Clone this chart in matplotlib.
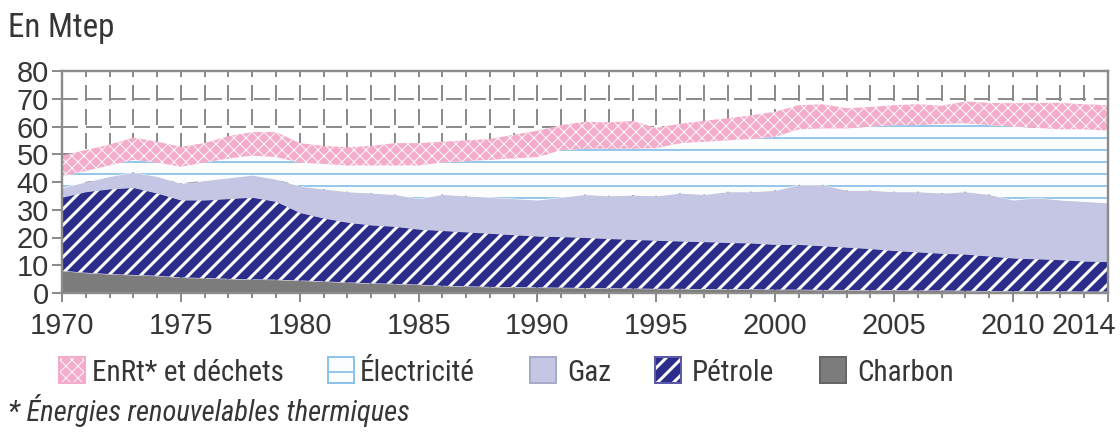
import matplotlib
matplotlib.use("Agg")
import matplotlib.pyplot as plt
from matplotlib.patches import Rectangle
from matplotlib.transforms import ScaledTranslation
from matplotlib import font_manager as fm
from matplotlib.font_manager import FontProperties
from matplotlib.textpath import TextPath

# ---------------- data (Mtep) ----------------
years = list(range(1970, 2015))
charbon = [8.0, 7.3, 6.8, 6.5, 6.2, 5.6, 5.4, 5.1, 4.9, 4.8,
           4.5, 4.2, 3.8, 3.5, 3.3, 3.0, 2.6, 2.4, 2.2, 2.1,
           2.0, 1.9, 1.8, 1.7, 1.6, 1.5, 1.5, 1.4, 1.4, 1.3,
           1.2, 1.2, 1.1, 1.1, 1.0, 1.0, 0.9, 0.9, 0.8, 0.7,
           0.7, 0.6, 0.6, 0.5, 0.5]
petrole = [26.5, 29.2, 30.7, 31.5, 29.8, 27.9, 28.1, 28.9, 29.6, 28.2,
           24.5, 22.8, 21.7, 21.0, 20.7, 20.0, 19.9, 19.6, 19.3, 18.9,
           18.5, 18.4, 18.2, 17.9, 17.7, 17.5, 17.2, 17.1, 16.8, 16.7,
           16.3, 16.3, 15.9, 15.4, 15.0, 14.3, 13.9, 13.4, 13.2, 12.6,
           11.9, 11.7, 11.4, 11.0, 10.8]
gaz = [3.5, 3.5, 4.5, 5.5, 6.0, 6.0, 7.0, 7.5, 8.0, 8.0,
       9.5, 10.5, 11.0, 11.5, 11.5, 11.0, 13.0, 13.0, 13.0, 13.0,
       13.0, 14.2, 15.5, 15.4, 16.0, 16.0, 17.3, 17.0, 18.3, 18.5,
       19.5, 21.5, 22.0, 20.5, 21.0, 21.2, 21.7, 21.7, 22.5, 22.2,
       20.9, 22.0, 21.5, 21.5, 21.2]
electricite = [4.0, 4.0, 4.0, 4.5, 5.0, 6.0, 6.5, 7.0, 7.0, 8.0,
               8.5, 9.0, 9.5, 10.0, 10.5, 12.0, 11.5, 12.5, 13.5, 14.5,
               15.5, 17.0, 16.5, 17.0, 16.7, 17.2, 18.0, 19.0, 18.5, 19.0,
               19.3, 20.0, 20.3, 22.3, 23.0, 24.0, 24.0, 25.0, 24.7, 25.0,
               26.5, 25.2, 25.5, 26.0, 26.0]
enrt = [7.5, 7.5, 7.5, 8.0, 7.5, 7.2, 7.0, 8.0, 8.5, 9.0,
        7.0, 6.5, 6.5, 7.0, 8.0, 8.0, 7.5, 7.5, 7.5, 8.5,
        9.5, 9.0, 9.7, 9.5, 10.0, 7.3, 7.0, 7.5, 8.0, 8.5,
        9.0, 8.7, 8.7, 7.3, 7.0, 7.2, 7.5, 6.5, 7.8, 8.0,
        8.4, 9.0, 9.5, 9.0, 9.2]

series_labels = ["EnRt* et déchets", "Électricité", "Gaz", "Pétrole", "Charbon"]
yticks = [0, 10, 20, 30, 40, 50, 60, 70, 80]
xticks = [1970, 1975, 1980, 1985, 1990, 1995, 2000, 2005, 2010, 2014]
xticklabels = [str(v) for v in xticks]
title_text = "En Mtep"
footnote_text = "* Énergies renouvelables thermiques"

# ---------------- fonts ----------------
DPI = 144
W, H = 1120, 436
available = {f.name for f in fm.fontManager.ttflist}
family = "Liberation Sans"
for cand in ["Liberation Sans Narrow", "Roboto Condensed", "Open Sans Condensed",
             "Liberation Sans"]:
    if cand in available:
        family = cand
        break
tick_family = ["Liberation Sans", "DejaVu Sans"]
plt.rcParams["font.family"] = [family, "DejaVu Sans"]


def fit_size(text, width_px, max_pt, italic=False, fam=None):
    """font size (pt) so that text ink width ~ width_px, capped at max_pt"""
    fp = FontProperties(family=fam or [family, "DejaVu Sans"],
                        style="italic" if italic else "normal")
    w = TextPath((0, 0), text, prop=fp, size=10).get_extents().width * DPI / 72.0
    return min(max_pt, 10 * width_px / w)


TXT = "#363636"
GRID = "#8c8c8c"

styles = {  # face, hatch, hatch colour, hatch linewidth
    "Charbon": ("#7c7c7c", None, None, None),
    "Pétrole": ("#2c2d8a", "///", "white", 1.5),
    "Gaz": ("#c5c6e3", None, None, None),
    "Électricité": ("#fbfdff", "--", "#8cc3ea", 0.9),
    "EnRt* et déchets": ("#f3acc9", "xxxx", "white", 0.45),
}


def style_artist(art, name, hatch_override=None):
    face, hatch, hcol, hlw = styles[name]
    if hatch_override:
        hatch = hatch_override
    art.set_facecolor(face)
    art.set_linewidth(0)
    if hatch:
        art.set_hatch(hatch)
        art.set_edgecolor(hcol)
        if hasattr(art, "set_hatch_linewidth"):
            art.set_hatch_linewidth(hlw)
    else:
        art.set_edgecolor(face)


fig = plt.figure(figsize=(W / DPI, H / DPI), dpi=DPI)
ax = fig.add_axes([62 / W, (H - 293) / H, (1108 - 62) / W, (293 - 71) / H])

layers = [charbon, petrole, gaz, electricite, enrt]
names = ["Charbon", "Pétrole", "Gaz", "Électricité", "EnRt* et déchets"]
polys = ax.stackplot(years, *layers)
for p, n in zip(polys, names):
    style_artist(p, n)

ax.set_xlim(1970, 2014)
ax.set_ylim(0, 80)
ax.set_axisbelow(True)

ax.set_yticks(yticks)
ax.set_yticklabels([str(v) for v in yticks])
ax.set_xticks(xticks)
ax.set_xticklabels(xticklabels)
ax.set_xticks(years, minor=True)

dash = (0, (8, 4))
ax.grid(axis="y", which="major", color=GRID, lw=1.0, ls=dash)
ax.grid(axis="x", which="both", color=GRID, lw=1.0, ls=dash)

for s in ax.spines.values():
    s.set_color(GRID)
    s.set_linewidth(1.2)

tick_pt = fit_size("1970", 63, 14.5, fam=tick_family)
ax.tick_params(axis="x", which="major", length=4.5, width=1.0, color=GRID,
               labelsize=tick_pt, labelcolor=TXT, pad=5)
ax.tick_params(axis="x", which="minor", length=2.5, width=1.0, color=GRID)
ax.tick_params(axis="y", which="major", length=5, width=1.0, color=GRID,
               labelsize=tick_pt, labelcolor=TXT, pad=1.5)
for lab in ax.get_xticklabels() + ax.get_yticklabels():
    lab.set_family(tick_family)

last = ax.xaxis.get_major_ticks()[-1].label1
last.set_horizontalalignment("right")
last.set_transform(last.get_transform() + ScaledTranslation(8 / DPI, 0, fig.dpi_scale_trans))

# ---------------- title / footnote ----------------
fig.text(8 / W, 1 - 37 / H, title_text, fontsize=fit_size(title_text, 107, 16.5),
         color=TXT, va="baseline", ha="left")
fig.text(8 / W, 1 - 421 / H, footnote_text, fontsize=fit_size(footnote_text, 400, 14.5, True),
         color=TXT, style="italic", va="baseline", ha="left")

# ---------------- legend ----------------
legend_pos = {  # box left px, text left px, text ink width px
    "EnRt* et déchets": (59, 92, 190),
    "Électricité": (328, 360, 112),
    "Gaz": (530, 567, 42),
    "Pétrole": (655, 692, 82),
    "Charbon": (820, 857, 93),
}
leg_pt = min(fit_size(n, legend_pos[n][2], 15.5) for n in series_labels)
box_w, box_top, box_bot = 26, 357, 383
outline = {"EnRt* et déchets": "#f3acc9", "Électricité": "#8cc3ea", "Gaz": "#a9aacb",
           "Pétrole": "#5a5aa8", "Charbon": "#666666"}
legend_hatch = {"Électricité": "-"}
for n in series_labels:
    bx, tx, _ = legend_pos[n]
    r = Rectangle((bx / W, 1 - box_bot / H), box_w / W, (box_bot - box_top) / H,
                  transform=fig.transFigure)
    style_artist(r, n, legend_hatch.get(n))
    fig.add_artist(r)
    r2 = Rectangle((bx / W, 1 - box_bot / H), box_w / W, (box_bot - box_top) / H,
                   transform=fig.transFigure, fill=False, edgecolor=outline[n], lw=1.0)
    fig.add_artist(r2)
    fig.text(tx / W, 1 - 381 / H, n, fontsize=leg_pt, color=TXT, va="baseline", ha="left")

fig.savefig("out.png", dpi=DPI, facecolor="white")
